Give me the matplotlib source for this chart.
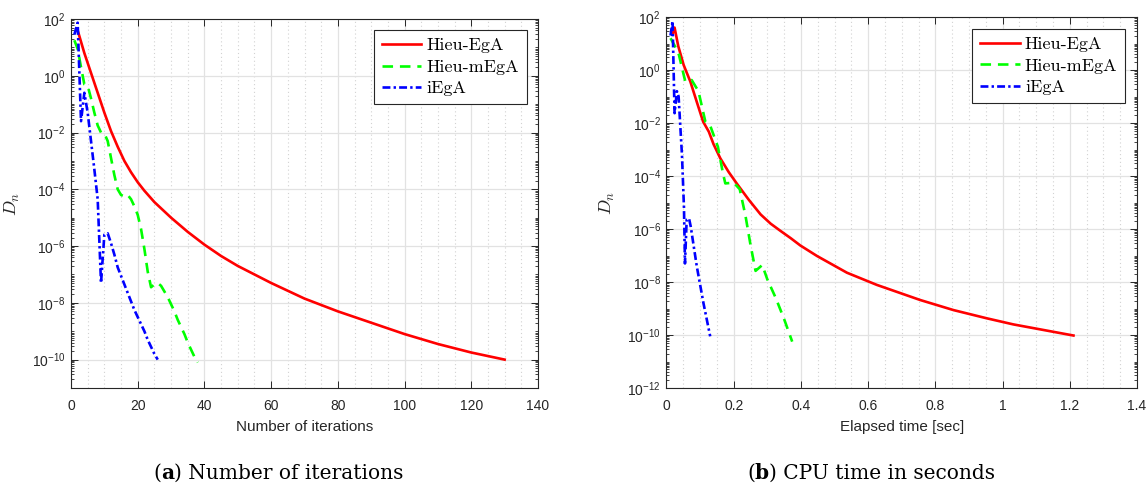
import numpy as np
import matplotlib
matplotlib.use("Agg")
import matplotlib.pyplot as plt
from matplotlib.ticker import MultipleLocator, LogLocator, NullFormatter, FuncFormatter

plt.rcParams['font.family'] = ['Liberation Sans', 'DejaVu Sans']
plt.rcParams['mathtext.fontset'] = 'cm'

# values are log10(D_n)
# (a) against iterations
hieu_ega_it = [2, 3, 4, 5, 6, 8, 10, 12, 14, 16, 18, 20, 22, 25, 30, 35, 40, 45, 50, 60, 70, 80, 90, 100,
               110, 120, 130]
hieu_ega_d = [1.6, 1.2, 0.8, 0.45, 0.1, -0.6, -1.3, -1.95, -2.5, -3.0, -3.4, -3.75, -4.05, -4.45, -5.0,
              -5.5, -5.95, -6.35, -6.7, -7.3, -7.85, -8.3, -8.7, -9.1, -9.45, -9.75, -10.0]

hieu_megA_it = list(range(1, 39))
hieu_megA_d = [1.25, 0.95, 0.3, -0.3, -0.35, -0.8, -1.3, -1.75, -2.0, -2.03, -2.3, -2.9, -3.5, -4.0, -4.2,
               -4.25, -4.2, -4.35, -4.6, -4.9, -5.4, -6.1, -6.9, -7.45, -7.35, -7.3, -7.4, -7.6, -7.8, -8.05,
               -8.3, -8.6, -8.85, -9.1, -9.4, -9.65, -9.9, -10.1]

iega_it = list(range(1, 27))
iega_d = [1.45, 1.87, -1.6, -0.6, -1.3, -2.3, -3.3, -4.35, -7.3, -5.6, -5.55, -5.9, -6.3, -6.75, -7.05,
          -7.35, -7.65, -7.95, -8.25, -8.5, -8.75, -9.0, -9.3, -9.55, -9.8, -10.0]

# (b) against elapsed time
hieu_ega_t = [0.018, 0.024, 0.035, 0.051, 0.071, 0.09, 0.109, 0.126, 0.14, 0.16, 0.185, 0.21, 0.245, 0.28,
              0.31, 0.339, 0.37, 0.398, 0.448, 0.537, 0.626, 0.755, 0.854, 0.953, 1.032, 1.211]
hieu_ega_td = [1.35, 1.6, 0.9, 0.19, -0.44, -1.2, -1.95, -2.33, -2.8, -3.33, -3.85, -4.3, -4.9, -5.45,
               -5.8, -6.07, -6.35, -6.62, -7.02, -7.65, -8.11, -8.68, -9.06, -9.37, -9.6, -10.02]

hieu_megA_t = [0.012, 0.025, 0.037, 0.056, 0.075, 0.095, 0.116, 0.13, 0.153, 0.168, 0.175, 0.2, 0.218,
               0.235, 0.25, 0.265, 0.285, 0.3, 0.325, 0.35, 0.374]
hieu_megA_td = [1.2, 0.9, 0.57, -0.44, -0.38, -0.8, -1.97, -2.1, -2.9, -3.9, -4.28, -4.25, -4.5,
                -5.5, -6.6, -7.58, -7.36, -7.9, -8.6, -9.4, -10.25]

iega_t = [0.012, 0.018, 0.024, 0.031, 0.036, 0.046, 0.052, 0.055, 0.06, 0.067, 0.072, 0.09, 0.11, 0.13]
iega_td = [1.3, 1.85, -1.63, -0.8, -1.0, -3.2, -5.2, -7.3, -5.65, -5.6, -5.9, -7.4, -8.8, -10.05]

names = ['Hieu-EgA', 'Hieu-mEgA', 'iEgA']
axcol = '#262626'

fig = plt.figure(figsize=(11.47, 4.84), dpi=100)
ax1 = fig.add_axes([71 / 1147, 1 - 388 / 484, 467 / 1147, 369 / 484])
ax2 = fig.add_axes([666.5 / 1147, 1 - 388 / 484, 470.5 / 1147, 371 / 484])


def draw(ax, xs, ys):
    ax.plot(xs[0], 10.0 ** np.array(ys[0]), color=(1, 0, 0), lw=1.9, label=names[0])
    ax.plot(xs[1], 10.0 ** np.array(ys[1]), color=(0, 1, 0), lw=1.9, dashes=(4, 2.6),
            dash_capstyle='butt', label=names[1])
    ax.plot(xs[2], 10.0 ** np.array(ys[2]), color=(0, 0, 1), lw=1.9, dashes=(3, 1.2, 0.9, 1.2),
            dash_capstyle='butt', label=names[2])


draw(ax1, [hieu_ega_it, hieu_megA_it, iega_it], [hieu_ega_d, hieu_megA_d, iega_d])
draw(ax2, [hieu_ega_t, hieu_megA_t, iega_t], [hieu_ega_td, hieu_megA_td, iega_td])

ax1.set_yscale('log')
ax2.set_yscale('log')

ax1.set_xlim(0, 140)
ax1.set_xticks(np.arange(0, 141, 20))
ax1.xaxis.set_minor_locator(MultipleLocator(5))
ax1.set_yticks([10.0 ** e for e in range(-10, 3, 2)])
ax1.set_xlabel('Number of iterations', fontsize=11, color=axcol, labelpad=5)

ax2.set_xlim(0, 1.4)
ax2.set_xticks(np.arange(0, 1.41, 0.2))
ax2.xaxis.set_minor_locator(MultipleLocator(0.05))
ax2.set_yticks([10.0 ** e for e in range(-12, 3, 2)])
ax2.set_xlabel('Elapsed time [sec]', fontsize=11, color=axcol, labelpad=5)

for ax, anchor in [(ax1, (0.976, 0.970)), (ax2, (0.9745, 0.9677))]:
    ax.yaxis.set_minor_locator(LogLocator(base=10, subs=np.arange(1, 10), numticks=40))
    ax.yaxis.set_minor_formatter(NullFormatter())
    ax.xaxis.set_major_formatter(FuncFormatter(lambda v, p: '%g' % round(v, 6)))
    ax.set_axisbelow(True)
    ax.grid(which='major', axis='both', color='#e2e2e2', lw=0.9, ls='-')
    ax.grid(which='minor', axis='x', color='#d2d2d2', lw=0.8, ls=(0, (1, 2.5)))
    ax.tick_params(which='both', direction='in', top=True, right=True, color=axcol,
                   labelcolor=axcol, labelsize=10)
    ax.tick_params(which='major', length=5, width=0.7)
    ax.tick_params(axis='y', which='minor', length=2.5, width=0.6)
    ax.tick_params(axis='x', which='minor', length=0)
    ax.tick_params(axis='x', pad=8)
    ax.tick_params(axis='y', pad=4)
    for s in ax.spines.values():
        s.set_color(axcol)
        s.set_linewidth(0.8)
    ax.set_ylabel(r'$D_n$', fontsize=13, color=axcol)
    ax.yaxis.set_label_coords(-0.105, 0.5)
    leg = ax.legend(loc='upper right', bbox_to_anchor=anchor, borderaxespad=0,
                    prop={'family': 'cmr10', 'size': 13}, fancybox=False, framealpha=1,
                    edgecolor='#262626', handlelength=2.2, handletextpad=0.3,
                    labelspacing=0.33, borderpad=0.42)
    leg.get_frame().set_linewidth(0.8)

ax1.set_ylim(1e-11, 1e2)
ax2.set_ylim(1e-12, 1e2)

# captions: "(a) ..." with bold letter
for x0, letter, rest in [(153, 'a', ') Number of iterations'), (747, 'b', ') CPU time in seconds')]:
    t1 = fig.text(x0 / 1147, 1 - 479 / 484, '(', family='DejaVu Serif', fontsize=14.5, color='black')
    t2 = fig.add_artist(plt.Annotation(letter, xy=(1, 0), xycoords=t1, va='bottom', ha='left',
                                       family='DejaVu Serif', fontsize=14.5, weight='bold'))
    fig.add_artist(plt.Annotation(rest, xy=(1, 0), xycoords=t2, va='bottom', ha='left',
                                  family='DejaVu Serif', fontsize=14.5))

fig.savefig('out.png', dpi=100)
